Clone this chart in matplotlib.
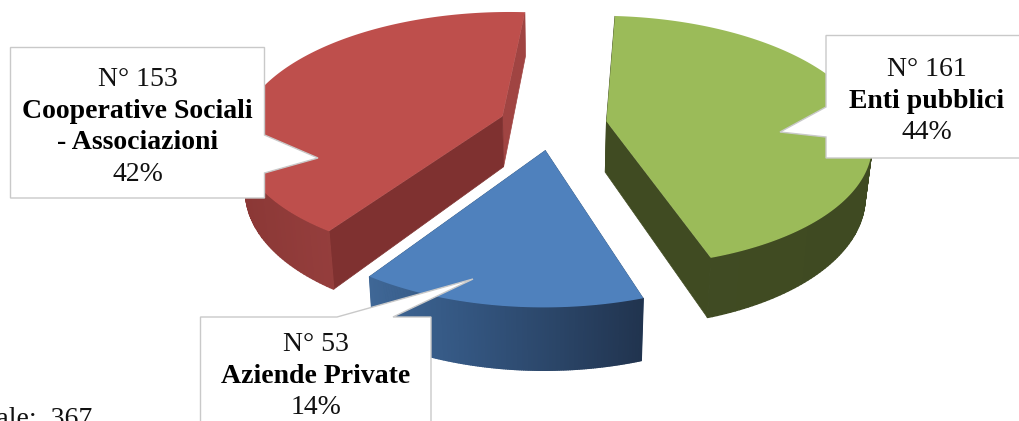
#!/usr/bin/env python3
# exploded 3D style pie with callout labels
import numpy as np
import matplotlib
matplotlib.use('Agg')
import matplotlib.pyplot as plt
from matplotlib.colors import LinearSegmentedColormap

names = ['Enti pubblici', 'Aziende Private', 'Cooperative Sociali\n- Associazioni']
counts = [161, 53, 153]
percents = ['44%', '14%', '42%']
total_text = 'Totale:  367'

top_colors = ['#9BBB59', '#4F81BD', '#BE4F4C']
side_a_colors = ['#404B22', '#3A5F8A', '#7F3130']
side_b_colors = ['#404B22', '#3A5F8A', '#A04442']
wall_maps = [['#414C23', '#3F4A22'],
             ['#3F6796', '#345782', '#2B4669', '#21344F'],
             ['#8B3836', '#9A4140', '#9C4341']]

start_angle = 86.0
# projection of the pie plane to pixels
cx, cy = 553.0, 124.5
sx, sy = 1.0, 0.47
persp = 0.0006
radius = 262.0
explode = 54.0
depth = 51.0
shrink = 0.978


def project(X, Y, low=False):
    s = 1.0 / (1.0 + persp * Y)
    x = X * sx * s
    y = cy - Y * sy * s
    if low:
        return cx + x * shrink, y + depth * s
    return cx + x, y


plt.rcParams['font.family'] = ['Liberation Serif', 'DejaVu Serif']
fig = plt.figure(figsize=(10.19, 4.21), dpi=100)
ax = fig.add_axes([0, 0, 1, 1])
ax.set_xlim(0, 1019)
ax.set_ylim(421, 0)
ax.axis('off')

fractions = np.array(counts) / np.sum(counts)
stops = start_angle - 360.0 * np.concatenate([[0], np.cumsum(fractions)])


def draw_slice(i):
    a0, a1 = stops[i], stops[i + 1]
    mid = np.radians((a0 + a1) / 2)
    ox, oy = explode * np.cos(mid), explode * np.sin(mid)
    t = np.radians(np.linspace(a0, a1, 161))
    X = ox + radius * np.cos(t)
    Y = oy + radius * np.sin(t)
    xt, yt = project(X, Y)
    xb, yb = project(X, Y, low=True)
    atx, aty = project(ox, oy)
    abx, aby = project(ox, oy, low=True)

    # flat side walls
    ax.fill([atx, xt[-1], xb[-1], abx], [aty, yt[-1], yb[-1], aby],
            color=side_b_colors[i], lw=0.5, zorder=1 + i)
    ax.fill([atx, xt[0], xb[0], abx], [aty, yt[0], yb[0], aby],
            color=side_a_colors[i], lw=0.5, zorder=1 + i)

    # curved outer wall, shaded from left to right
    cmap = LinearSegmentedColormap.from_list('wall', wall_maps[i])
    for k in range(len(t) - 1):
        if np.sin(t[k]) > 0.02:
            continue
        c = cmap((xt[k] - xt.min()) / (xt.max() - xt.min()))
        ax.fill([xt[k], xt[k + 1], xb[k + 1], xb[k]],
                [yt[k], yt[k + 1], yb[k + 1], yb[k]],
                color=c, lw=1.0, zorder=1 + i)

    ax.fill(np.r_[atx, xt], np.r_[aty, yt], color=top_colors[i], lw=0, zorder=1.5 + i)


for i in [2, 0, 1]:
    draw_slice(i)

# callouts: box outline including the pointer
box_green = [(826, 35.5), (1030, 35.5), (1030, 158), (826, 158), (826, 137), (780, 132), (826, 107)]
box_red = [(10.5, 47.5), (264.5, 47.5), (264.5, 135), (318, 158), (264.5, 173), (264.5, 198), (10.5, 198)]
box_blue = [(200.5, 317), (337, 317), (473, 279), (393, 317), (431, 317), (431, 440), (200.5, 440)]
for box in [box_green, box_blue, box_red]:
    px, py = zip(*box)
    ax.fill(px, py, facecolor='white', edgecolor='#C9C9C9', lw=1.0, zorder=10)

# x centre and first baseline of each label
label_pos = [(927, 76), (316, 351), (137.5, 86)]
fsize = 20
step = 31.6
for i, (lx, ly) in enumerate(label_pos):
    lines = names[i].split('\n')
    ax.text(lx, ly, 'N° %d' % counts[i], ha='center', va='baseline', fontsize=fsize, color='#111111', zorder=11)
    for j, line in enumerate(lines):
        ax.text(lx, ly + step * (j + 1), line, ha='center', va='baseline', fontsize=fsize,
                fontweight='bold', color='black', zorder=11)
    ax.text(lx, ly + step * (len(lines) + 1), percents[i], ha='center', va='baseline',
            fontsize=fsize, color='#111111', zorder=11)

ax.text(92, 426, total_text, ha='right', va='baseline', fontsize=fsize, color='#111111', clip_on=False)

fig.savefig('out.png', dpi=100)
